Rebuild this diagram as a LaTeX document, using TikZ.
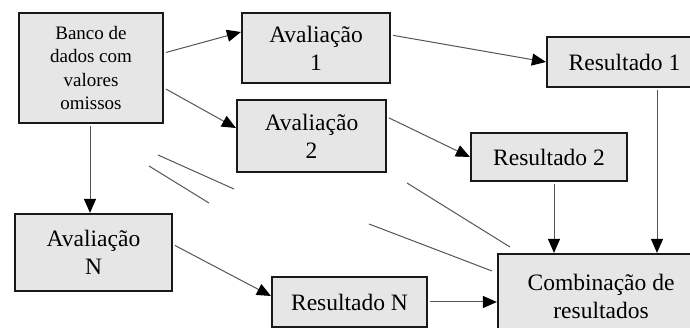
\documentclass[tikz,border=0pt]{standalone}
\usepackage{fontspec}
\setmainfont{Liberation Serif}
\usetikzlibrary{arrows.meta}

\definecolor{boxgray}{HTML}{E6E6E6}
\definecolor{linegray}{HTML}{555555}

\tikzset{
	stepbox/.style={draw=black!90, line width=2.2pt, fill=boxgray, rectangle,
		inner sep=0pt, align=center, font=\fontsize{23.5}{28}\selectfont},
	flow/.style={draw=linegray, line width=1pt, shorten <=2pt,
		-{Triangle[length=14pt,width=12pt,color=black]}},
	gap/.style={draw=linegray, line width=1pt}
}

\begin{document}
\begin{tikzpicture}[x=1pt, y=-1pt]
	\useasboundingbox (0,0) rectangle (690,328);
	% boxes
	\node[stepbox, minimum width=144pt, minimum height=110pt,
		font=\fontsize{19}{23.5}\selectfont] (banco) at (91,68)
		{Banco de\\dados com\\valores\\omissos};
	\node[stepbox, minimum width=148pt, minimum height=70pt] (av1) at (316,48) {Avaliação\\1};
	\node[stepbox, minimum width=149pt, minimum height=72pt] (av2) at (311.5,136) {Avaliação\\2};
	\node[stepbox, minimum width=157pt, minimum height=77pt] (avN) at (93.5,252.5) {Avaliação\\N};
	\node[stepbox, minimum width=155pt, minimum height=50pt] (res1) at (624.5,62) {Resultado 1};
	\node[stepbox, minimum width=156pt, minimum height=48pt] (res2) at (549,157) {Resultado 2};
	\node[stepbox, minimum width=155pt, minimum height=50pt] (resN) at (349.5,302) {Resultado N};
	\node[stepbox, minimum width=206pt, minimum height=84pt] (comb) at (601,296) {Combinação de\\resultados};
	% arrows
	\draw[flow] ([yshift=15pt]banco.east) -- ([yshift=16pt]av1.west);
	\draw[flow] ([yshift=-20pt]banco.east) -- ([yshift=8pt]av2.west);
	\draw[flow] ([xshift=-1pt]banco.south) -- ([xshift=-1pt]banco.south |- avN.north);
	\draw[flow] ([yshift=13pt]av1.east) -- (res1.west);
	\draw[flow] ([yshift=19pt]av2.east) -- (res2.west);
	\draw[flow] ([yshift=8pt]avN.east) -- ([yshift=6pt]resN.west);
	\draw[flow] (resN.east) -- (resN.east -| comb.west);
	\draw[flow] ([xshift=5pt]res2.south) -- ([xshift=5pt]res2.south |- comb.north);
	\draw[flow] ([xshift=32.5pt]res1.south) -- ([xshift=32.5pt]res1.south |- comb.north);
	% loose lines
	\coordinate (g1a) at (158,155); \coordinate (g1b) at (234,189);
	\coordinate (g2a) at (149,166); \coordinate (g2b) at (209,203);
	\coordinate (g3a) at (407,183); \coordinate (g3b) at (510,247);
	\coordinate (g4a) at (369,224); \coordinate (g4b) at (492,271);
	\foreach \p in {1,...,4} {
		\draw[gap] (g\p a) -- (g\p b);
	}
\end{tikzpicture}
\end{document}
